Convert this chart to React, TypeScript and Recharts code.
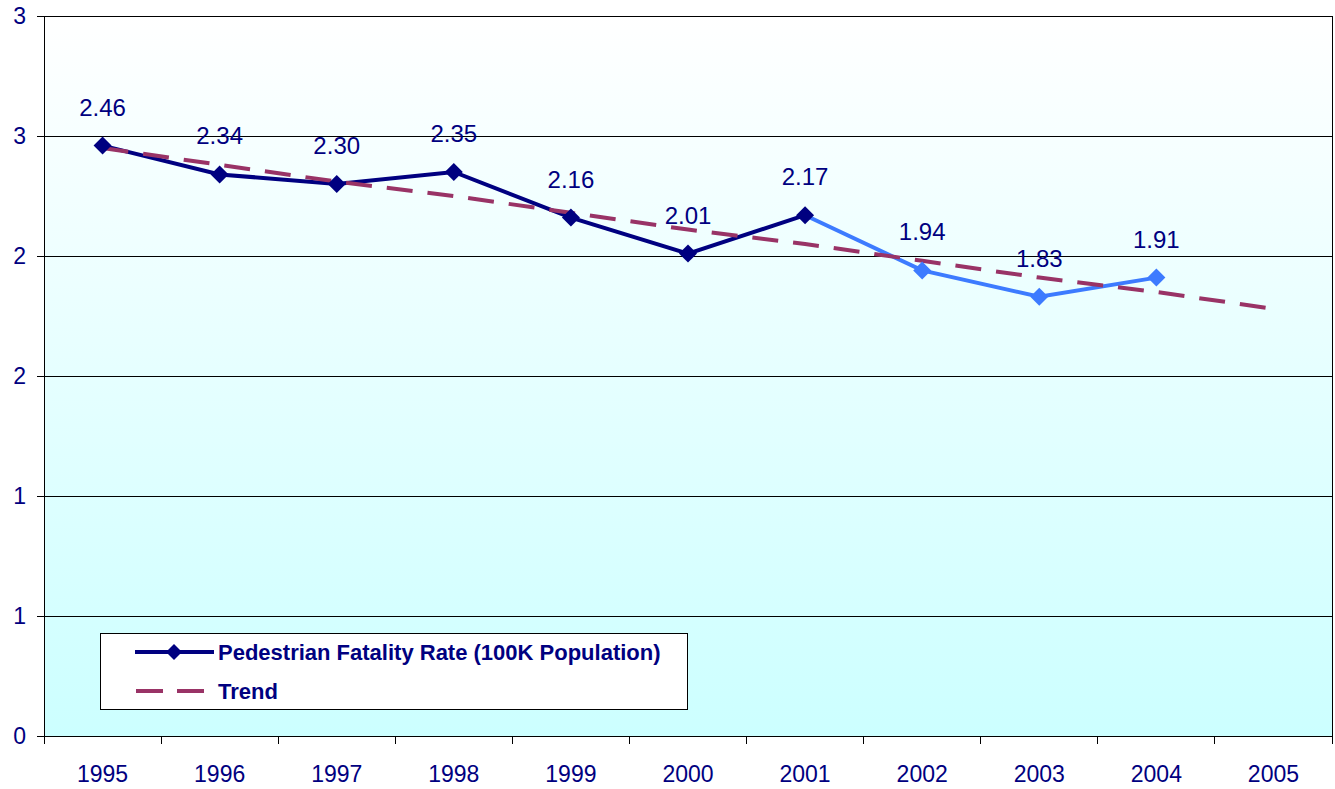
import {
  LineChart,
  Line,
  XAxis,
  YAxis,
  CartesianGrid,
  LabelList,
} from "recharts";

document.body.style.margin = "0";

const years = ["1995", "1996", "1997", "1998", "1999", "2000", "2001", "2002", "2003", "2004", "2005"];
const rate = [2.46, 2.34, 2.3, 2.35, 2.16, 2.01, 2.17, 1.94, 1.83, 1.91, null];
const trend = [2.45, 2.38, 2.31, 2.25, 2.18, 2.11, 2.05, 1.98, 1.91, 1.85, 1.78];
const yTicks = [0, 0.5, 1, 1.5, 2, 2.5, 3];
// the first seven years are drawn dark, the later ones lighter
const SPLIT = 6;

const NAVY = "#000080";
const LIGHT = "#3D7BFF";
const TREND = "#993366";
const FONT = "'Liberation Sans', Arial, sans-serif";

const W = 1335;
const H = 789;
const PLOT_LEFT = 44;
const PLOT_RIGHT = 1332;
const band = (PLOT_RIGHT - PLOT_LEFT) / years.length;

const data = years.map((year, i) => ({
  year,
  dark: i <= SPLIT ? rate[i] : null,
  light: i >= SPLIT ? rate[i] : null,
  trend: trend[i],
}));

function Diamond({ cx, cy, color, r }: { cx?: number; cy?: number; color: string; r: number }) {
  if (cx == null || cy == null) return <g />;
  return (
    <polygon
      points={`${cx},${cy - r} ${cx + r},${cy} ${cx},${cy + r} ${cx - r},${cy}`}
      fill={color}
    />
  );
}

function ValueLabel(props: any) {
  const { x, y, value } = props;
  if (value == null || x == null) return null;
  return (
    <text x={x} y={y - 30} textAnchor="middle" fill={NAVY} fontSize={24} fontFamily={FONT}>
      {Number(value).toFixed(2)}
    </text>
  );
}

function YearTick(props: any) {
  const { x, y, payload, index } = props;
  const last = index === years.length - 1;
  return (
    <g>
      <line x1={x - band / 2} x2={x - band / 2} y1={y} y2={y + 8} stroke="#000" shapeRendering="crispEdges" />
      {last && (
        <line x1={x + band / 2} x2={x + band / 2} y1={y} y2={y + 8} stroke="#000" shapeRendering="crispEdges" />
      )}
      <text x={x} y={y + 46} textAnchor="middle" fill={NAVY} fontSize={23} fontFamily={FONT}>
        {payload.value}
      </text>
    </g>
  );
}

function ChartLegend() {
  return (
    <div
      style={{
        position: "absolute",
        left: 100,
        top: 633,
        width: 588,
        height: 77,
        border: "1px solid #000",
        background: "#fff",
        boxSizing: "border-box",
      }}
    >
      <svg width={586} height={75} style={{ display: "block" }}>
        <line x1={34} x2={113} y1={18} y2={18} stroke={NAVY} strokeWidth={4} />
        <Diamond cx={73} cy={18} color={NAVY} r={8} />
        <text x={117} y={26} fill={NAVY} fontSize={22} fontWeight="bold" fontFamily={FONT}>
          Pedestrian Fatality Rate (100K Population)
        </text>
        <line x1={35} x2={113} y1={57} y2={57} stroke={TREND} strokeWidth={4} strokeDasharray="27 14" />
        <text x={117} y={65} fill={NAVY} fontSize={22} fontWeight="bold" fontFamily={FONT}>
          Trend
        </text>
      </svg>
    </div>
  );
}

export default function App() {
  return (
    <div style={{ position: "relative", width: W, height: H, background: "#fff" }}>
      <LineChart width={W} height={H} data={data} margin={{ top: 16, right: 2, bottom: 0, left: 0 }}>
        <defs>
          <linearGradient id="plotBg" x1="0" y1="0" x2="0" y2="1">
            <stop offset="0%" stopColor="#FFFFFF" />
            <stop offset="100%" stopColor="#CCFFFF" />
          </linearGradient>
        </defs>
        <CartesianGrid
          vertical={false}
          stroke="#000"
          strokeWidth={1}
          fill="url(#plotBg)"
          fillOpacity={1}
          shapeRendering="crispEdges"
        />
        <XAxis
          dataKey="year"
          height={53}
          padding={{ left: band / 2, right: band / 2 }}
          tickSize={0}
          tickMargin={0}
          tickLine={false}
          axisLine={{ stroke: "#000", shapeRendering: "crispEdges" }}
          tick={<YearTick />}
          interval={0}
        />
        <YAxis
          domain={[0, 3]}
          ticks={yTicks}
          width={44}
          tickSize={7}
          tickMargin={11}
          tickLine={{ stroke: "#000", shapeRendering: "crispEdges" }}
          axisLine={{ stroke: "#000", shapeRendering: "crispEdges" }}
          tickFormatter={(v: number) => String(Math.round(v))}
          tick={{ fill: NAVY, fontSize: 23, fontFamily: FONT }}
        />
        <YAxis
          yAxisId="right"
          orientation="right"
          domain={[0, 3]}
          width={1}
          tick={false}
          tickLine={false}
          axisLine={{ stroke: "#000", shapeRendering: "crispEdges" }}
        />
        <Line
          dataKey="light"
          stroke={LIGHT}
          strokeWidth={4}
          isAnimationActive={false}
          dot={(p: any) => (
            <Diamond key={`l-${p.index}`} cx={p.index > SPLIT ? p.cx : undefined} cy={p.cy} color={LIGHT} r={9} />
          )}
          activeDot={false}
        >
          <LabelList dataKey="light" content={(p: any) => (p.index > SPLIT ? <ValueLabel {...p} /> : null)} />
        </Line>
        <Line
          dataKey="dark"
          stroke={NAVY}
          strokeWidth={4}
          isAnimationActive={false}
          dot={(p: any) => <Diamond key={`d-${p.index}`} cx={p.cx} cy={p.cy} color={NAVY} r={9} />}
          activeDot={false}
        >
          <LabelList dataKey="dark" content={<ValueLabel />} />
        </Line>
        <Line
          dataKey="trend"
          stroke={TREND}
          strokeWidth={4}
          strokeDasharray="26 15"
          dot={false}
          activeDot={false}
          isAnimationActive={false}
        />
      </LineChart>
      <ChartLegend />
    </div>
  );
}
